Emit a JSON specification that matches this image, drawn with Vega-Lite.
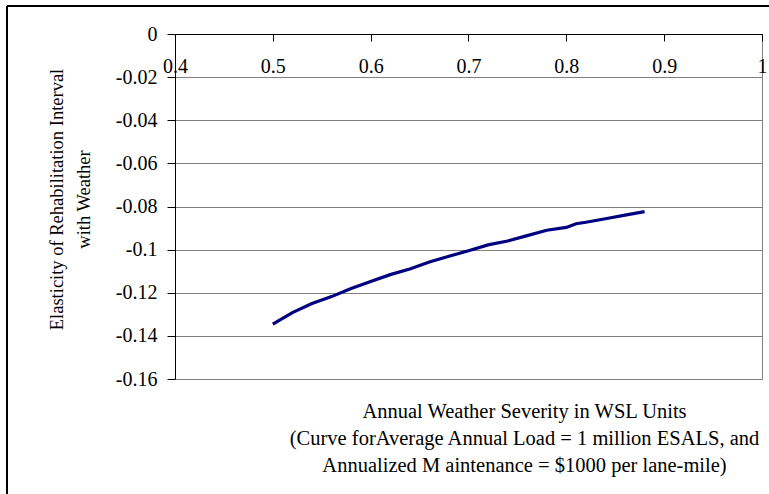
{
  "$schema": "https://vega.github.io/schema/vega-lite/v6.json",
  "autosize": "none",
  "width": 587,
  "height": 345,
  "padding": {"left": 175, "top": 34, "right": 7, "bottom": 115},
  "background": "white",
  "config": {
    "view": {"stroke": "#808080", "strokeWidth": 1},
    "font": "'Liberation Serif', 'Times New Roman', Times, serif"
  },
  "data": {"values": [
    {"wsl": 0.50, "elasticity": -0.1345},
    {"wsl": 0.52, "elasticity": -0.1292},
    {"wsl": 0.54, "elasticity": -0.1250},
    {"wsl": 0.56, "elasticity": -0.1218},
    {"wsl": 0.58, "elasticity": -0.1180},
    {"wsl": 0.60, "elasticity": -0.1148},
    {"wsl": 0.62, "elasticity": -0.1116},
    {"wsl": 0.64, "elasticity": -0.1090},
    {"wsl": 0.66, "elasticity": -0.1057},
    {"wsl": 0.68, "elasticity": -0.1031},
    {"wsl": 0.70, "elasticity": -0.1005},
    {"wsl": 0.72, "elasticity": -0.0978},
    {"wsl": 0.74, "elasticity": -0.0960},
    {"wsl": 0.76, "elasticity": -0.0935},
    {"wsl": 0.78, "elasticity": -0.0910},
    {"wsl": 0.80, "elasticity": -0.0897},
    {"wsl": 0.81, "elasticity": -0.0880},
    {"wsl": 0.82, "elasticity": -0.0873},
    {"wsl": 0.84, "elasticity": -0.0857},
    {"wsl": 0.86, "elasticity": -0.0840},
    {"wsl": 0.88, "elasticity": -0.0824}
  ]},
  "layer": [
    {
      "mark": {"type": "line", "color": "#000080", "strokeWidth": 3.2},
      "encoding": {
        "x": {
          "field": "wsl", "type": "quantitative",
          "scale": {"domain": [0.4, 1], "nice": false, "zero": false},
          "axis": {
            "orient": "bottom", "offset": -345,
            "values": [0.4, 0.5, 0.6, 0.7, 0.8, 0.9, 1],
            "labelExpr": "datum.value == 1 ? '1' : format(datum.value, '.1f')",
            "grid": false, "domainColor": "black", "tickColor": "black",
            "tickSize": 7, "labelPadding": 15,
            "labelFont": "'Liberation Serif', 'Times New Roman', Times, serif", "labelFontSize": 20, "labelColor": "black",
            "labelFlush": false, "labelOverlap": false,
            "title": ["Annual Weather Severity in WSL Units", "(Curve forAverage Annual Load = 1 million ESALS, and", "Annualized M aintenance = $1000  per lane-mile)"],
            "titleFont": "'Liberation Serif', 'Times New Roman', Times, serif", "titleFontSize": 20.5, "titleFontWeight": "normal", "titleColor": "black",
            "titleLineHeight": 27, "titleBaseline": "top", "titleAlign": "center",
            "titleX": 349, "titleY": 367
          }
        },
        "y": {
          "field": "elasticity", "type": "quantitative",
          "scale": {"domain": [-0.16, 0], "nice": false, "zero": false},
          "axis": {
            "values": [0, -0.02, -0.04, -0.06, -0.08, -0.1, -0.12, -0.14, -0.16],
            "labelExpr": "datum.value == 0 ? '0' : '-' + format(-datum.value, '~g')",
            "grid": true, "gridColor": "#808080", "gridWidth": 1,
            "domainColor": "black", "tickColor": "black", "tickSize": 8, "labelPadding": 10,
            "labelFont": "'Liberation Serif', 'Times New Roman', Times, serif", "labelFontSize": 20, "labelColor": "black",
            "labelFlush": false, "labelOverlap": false,
            "title": ["Elasticity of Rehabilitation Interval", "with Weather"],
            "titleFont": "'Liberation Serif', 'Times New Roman', Times, serif", "titleFontSize": 18.5, "titleFontWeight": "normal", "titleColor": "black",
            "titleLineHeight": 27, "titleBaseline": "top", "titleAlign": "center",
            "titleAngle": -90, "titleX": -128, "titleY": 165
          }
        }
      }
    },
    {
      "mark": {"type": "rule", "color": "black", "strokeWidth": 1.5, "clip": false},
      "encoding": {
        "x": {"datum": 0.2283},
        "x2": {"datum": 1.02},
        "y": {"datum": 0.013}
      }
    },
    {
      "mark": {"type": "rule", "color": "black", "strokeWidth": 1.5, "clip": false},
      "encoding": {
        "x": {"datum": 0.2283},
        "y": {"datum": 0.013},
        "y2": {"datum": -0.23}
      }
    }
  ]
}
